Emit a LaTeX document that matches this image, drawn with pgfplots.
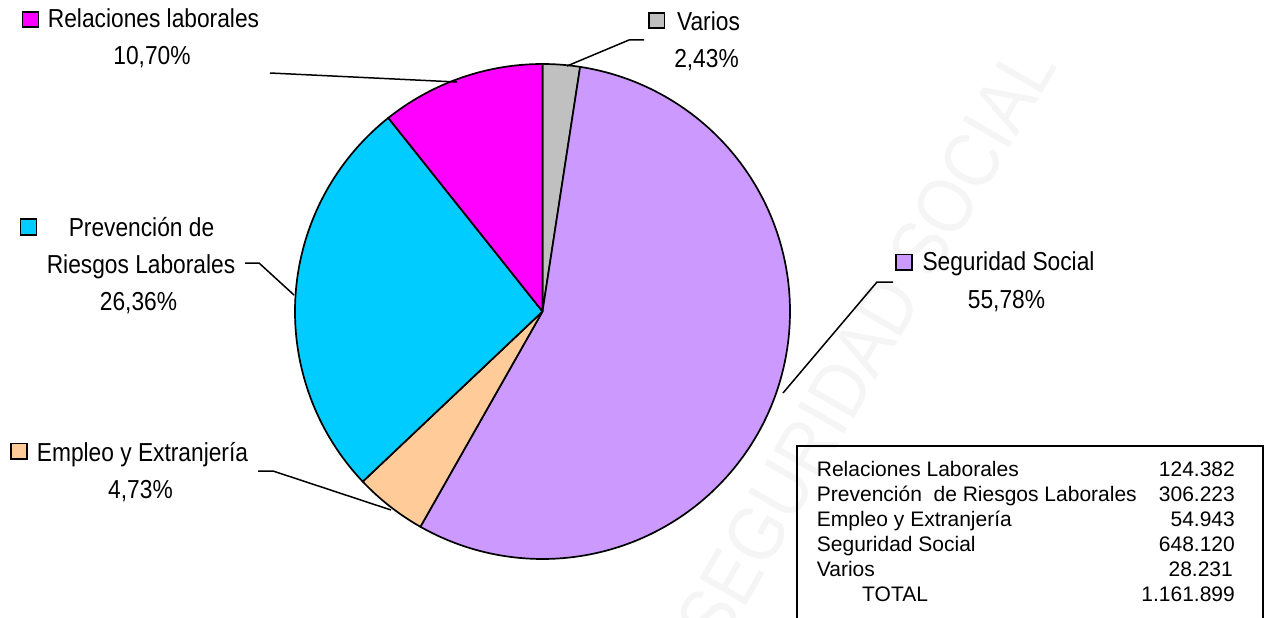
\documentclass[border=0pt]{standalone}
\usepackage{pgfplots}
\pgfplotsset{compat=1.18}
\usepackage{fontspec}
\setmainfont{Liberation Sans}
\newfontfamily\labfont[FakeStretch=0.875]{Liberation Sans}
\definecolor{cRel}{HTML}{FF00FF}
\definecolor{cPrev}{HTML}{00CCFF}
\definecolor{cEmp}{HTML}{FFCC99}
\definecolor{cSeg}{HTML}{CC99FF}
\definecolor{cVar}{HTML}{C0C0C0}
\definecolor{cWm}{HTML}{F5F5F5}
% values (thousands)
\def\vRel{124.382}
\def\vPrev{306.223}
\def\vEmp{54.943}
\def\vSeg{648.120}
\def\vVar{28.231}
\pgfmathsetmacro\vTot{\vRel+\vPrev+\vEmp+\vSeg+\vVar}
\pgfmathsetmacro\aA{90}
\pgfmathsetmacro\aB{\aA-\vVar/\vTot*360}
\pgfmathsetmacro\aC{\aB-\vSeg/\vTot*360}
\pgfmathsetmacro\aD{\aC-\vEmp/\vTot*360}
\pgfmathsetmacro\aE{\aD-\vPrev/\vTot*360}
\pgfmathsetmacro\aF{\aE-\vRel/\vTot*360}
\pgfplotsset{base/.style={at={(634.5pt,309pt)}, anchor=center, width=1269pt, height=618pt,
  scale only axis, hide axis, clip=false}}
\newcommand\lf{\labfont\fontsize{26}{30}\selectfont}
\newcommand\tf{\fontsize{21}{25}\selectfont}
\begin{document}
\begin{tikzpicture}
% watermark
\begin{axis}[base, xmin=0, xmax=1269, ymin=0, ymax=618, y dir=reverse]
\node[rotate=60, text=cWm, font=\labfont\fontsize{78}{80}\selectfont, inner sep=0] at (axis cs:866,344) {SEGURIDAD SOCIAL};
\end{axis}
% pie
\begin{axis}[base, xmin=-542.5, xmax=726.5, ymin=-306.5, ymax=311.5]
\addplot[draw=black, line width=1.7pt, line join=round, fill=cVar, data cs=polar, domain=\aB:\aA, samples=20] {247.5} -- (axis cs:0,0) -- cycle;
\addplot[draw=black, line width=1.7pt, line join=round, fill=cSeg, data cs=polar, domain=\aC:\aB, samples=200] {247.5} -- (axis cs:0,0) -- cycle;
\addplot[draw=black, line width=1.7pt, line join=round, fill=cEmp, data cs=polar, domain=\aD:\aC, samples=30] {247.5} -- (axis cs:0,0) -- cycle;
\addplot[draw=black, line width=1.7pt, line join=round, fill=cPrev, data cs=polar, domain=\aE:\aD, samples=100] {247.5} -- (axis cs:0,0) -- cycle;
\addplot[draw=black, line width=1.7pt, line join=round, fill=cRel, data cs=polar, domain=\aF:\aE, samples=50] {247.5} -- (axis cs:0,0) -- cycle;
\end{axis}
% annotations
\begin{axis}[base, xmin=0, xmax=1269, ymin=0, ymax=618, y dir=reverse]
% leader lines
\draw[line width=1.5pt] (axis cs:270,73) -- (axis cs:457,82);
\draw[line width=1.5pt] (axis cs:567,66) -- (axis cs:629,40) -- (axis cs:644,40);
\draw[line width=1.5pt] (axis cs:783,393) -- (axis cs:877,282) -- (axis cs:893,282);
\draw[line width=1.5pt] (axis cs:245,263) -- (axis cs:259,263) -- (axis cs:294,295);
\draw[line width=1.5pt] (axis cs:258,471) -- (axis cs:273,471) -- (axis cs:391,510);
% keys
\draw[fill=cRel, line width=1.5pt] (axis cs:22.5,12) rectangle (axis cs:38.5,27);
\draw[fill=cVar, line width=1.5pt] (axis cs:649,13) rectangle (axis cs:664.5,28);
\draw[fill=cSeg, line width=1.5pt] (axis cs:896,254.5) rectangle (axis cs:912,270);
\draw[fill=cPrev, line width=1.5pt] (axis cs:20.5,219) rectangle (axis cs:36.5,235);
\draw[fill=cEmp, line width=1.5pt] (axis cs:11,443.5) rectangle (axis cs:27,459);
% labels
\begin{scope}[every node/.style={anchor=base, inner sep=0, font=\lf}]
\node at (axis cs:153.5,27.3) {Relaciones laborales};
\node at (axis cs:152,64.3) {10,70\%};
\node at (axis cs:708.5,30.7) {Varios};
\node at (axis cs:706.5,67.7) {2,43\%};
\node at (axis cs:1008.5,270.7) {Seguridad Social};
\node at (axis cs:1006.5,308) {55,78\%};
\node at (axis cs:141.5,236.7) {Prevención de};
\node at (axis cs:141,273.3) {Riesgos Laborales};
\node at (axis cs:138.5,310) {26,36\%};
\node at (axis cs:142.5,461.7) {Empleo y Extranjería};
\node at (axis cs:140.5,498.3) {4,73\%};
\end{scope}
% table
\draw[line width=1.4pt] (axis cs:797,625) -- (axis cs:797,446) -- (axis cs:1263,446) -- (axis cs:1263,625);
\begin{scope}[every node/.style={inner sep=0, font=\tf}]
\node[anchor=base west] at (axis cs:816.7,476.5) {Relaciones Laborales};
\node[anchor=base west] at (axis cs:816.7,501.5) {Prevención\ \ de Riesgos Laborales};
\node[anchor=base west] at (axis cs:816.7,526.5) {Empleo y Extranjería};
\node[anchor=base west] at (axis cs:816.7,551.5) {Seguridad Social};
\node[anchor=base west] at (axis cs:816.7,576.5) {Varios};
\node[anchor=base west] at (axis cs:862,601.5) {TOTAL};
\node[anchor=base east] at (axis cs:1235,476.5) {124.382};
\node[anchor=base east] at (axis cs:1235,501.5) {306.223};
\node[anchor=base east] at (axis cs:1235,526.5) {54.943};
\node[anchor=base east] at (axis cs:1235,551.5) {648.120};
\node[anchor=base east] at (axis cs:1233,576.5) {28.231};
\node[anchor=base east] at (axis cs:1235,601.5) {1.161.899};
\end{scope}
\end{axis}
\pgfresetboundingbox
\path[use as bounding box] (0,0) rectangle (1269pt,618pt);
\end{tikzpicture}
\end{document}
